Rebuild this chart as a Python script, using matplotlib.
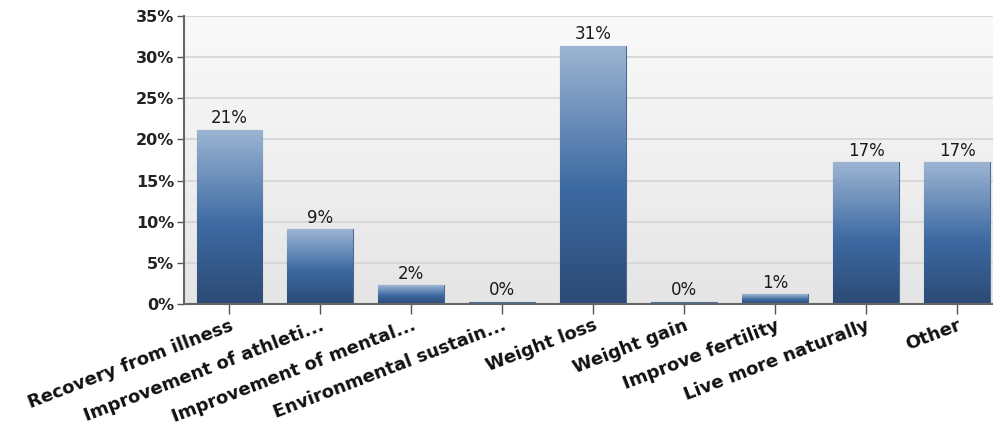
import numpy as np
import matplotlib
matplotlib.use("Agg")
import matplotlib.pyplot as plt
from matplotlib.colors import LinearSegmentedColormap

categories = ["Recovery from illness", "Improvement of athleti...", "Improvement of mental...",
              "Environmental sustain...", "Weight loss", "Weight gain", "Improve fertility",
              "Live more naturally", "Other"]
values = [21.2, 9.1, 2.3, 0.3, 31.4, 0.3, 1.2, 17.2, 17.2]
yticks = [0, 5, 10, 15, 20, 25, 30, 35]
ytick_labels = ["0%", "5%", "10%", "15%", "20%", "25%", "30%", "35%"]

W, H = 993, 425
fig = plt.figure(figsize=(W / 100, H / 100), dpi=100)
ax = fig.add_axes([184 / W, 1 - 304 / H, (W - 184) / W, (304 - 16) / H])

n = len(categories)
x = np.arange(n)
ax.set_xlim(-0.5, 8 + (W - 957) / 91.0)
ax.set_ylim(0, 35)

# background gradient
bg = LinearSegmentedColormap.from_list("bg", ["#e5e5e5", "#fafafa"])
ax.imshow(np.linspace(0, 1, 256).reshape(-1, 1), cmap=bg, origin="lower",
          extent=[0, 1, 0, 1], transform=ax.transAxes, aspect="auto", zorder=0)

# gridlines
for t in yticks[1:]:
    ax.axhline(t, color="#d4d4d4", lw=1.2, zorder=1)

bars = ax.bar(x, values, width=0.725, color="#3f6ba0", edgecolor="#4a6a92",
              linewidth=0.8, zorder=2)

bar_cmap = LinearSegmentedColormap.from_list(
    "bar", [(0.0, "#2c4a74"), (0.45, "#3d6aa2"), (1.0, "#9db5d3")])
grad = np.linspace(0, 1, 256).reshape(-1, 1)
for b in bars:
    x0, y0 = b.get_x(), b.get_y()
    w, h = b.get_width(), b.get_height()
    im = ax.imshow(grad, cmap=bar_cmap, origin="lower", aspect="auto",
                   extent=[x0, x0 + w, y0, y0 + h], zorder=2.5)
    im.set_clip_path(b)

for xi, v in zip(x, values):
    ax.text(xi, v + 0.3, f"{v:.0f}%", ha="center", va="bottom",
            fontsize=12, color="#1a1a1a", zorder=4)

ax.set_yticks(yticks)
ax.set_yticklabels(ytick_labels, fontsize=11.5, fontweight="bold", color="#222222")
ax.set_xticks(x)
ax.set_xticklabels(categories, rotation=21, ha="right", rotation_mode="anchor",
                   fontsize=13, fontweight="bold", color="#111111")

ax.tick_params(axis="y", length=5, width=1, color="#555555", pad=2)
ax.tick_params(axis="x", length=7, width=1, color="#555555", pad=2)

for s in ["top", "right"]:
    ax.spines[s].set_visible(False)
for s in ["left", "bottom"]:
    ax.spines[s].set_color("#666666")
    ax.spines[s].set_linewidth(1.5)
    ax.spines[s].set_zorder(5)

fig.savefig("out.png", dpi=100)
